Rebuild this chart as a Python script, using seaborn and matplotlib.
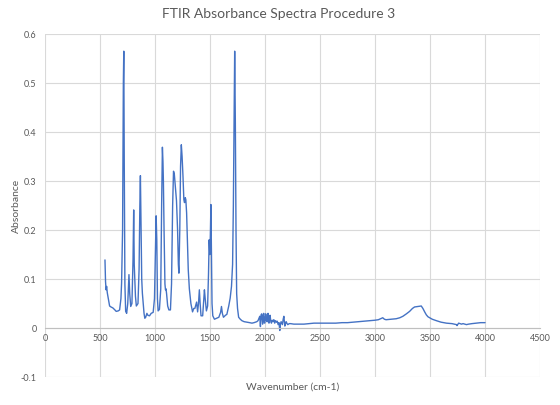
import numpy as np
import pandas as pd
import matplotlib
matplotlib.use('Agg')
import matplotlib.pyplot as plt
import seaborn as sns

# ── データ ──────────────────────────
wavenumber = [
    545, 550, 555, 560, 566, 575, 587, 600, 617, 635, 647, 665, 678, 690, 696,
    705, 712, 716, 720, 726, 733, 742, 752, 763, 770, 779, 790, 800, 806, 811,
    815, 822, 830, 845, 855, 862, 867, 873, 879, 885, 893, 900, 907, 915, 926,
    935, 950, 965, 983, 995, 1003, 1010, 1016, 1022, 1028, 1040, 1052, 1060,
    1067, 1072, 1076, 1082, 1090, 1095, 1100, 1105, 1115, 1126, 1140, 1150,
    1160, 1168, 1175, 1182, 1190, 1195, 1205, 1212, 1217, 1225, 1232, 1239,
    1246, 1254, 1262, 1268, 1275, 1280, 1287, 1295, 1302, 1312, 1326, 1341,
    1352, 1362, 1372, 1378, 1387, 1395, 1403, 1410, 1418, 1433, 1442, 1449,
    1456, 1467, 1478, 1486, 1492, 1498, 1503, 1508, 1513, 1518, 1525, 1540,
    1560, 1580, 1596, 1604, 1612, 1622, 1640, 1653, 1670, 1683, 1695, 1705,
    1712, 1718, 1724, 1730, 1736, 1742, 1750, 1760, 1775, 1790, 1810, 1836,
    1860, 1881, 1900, 1912, 1925, 1936, 1945, 1952, 1958, 1964, 1970, 1978,
    1983, 1988, 1993, 1997, 2002, 2006, 2012, 2018, 2023, 2027, 2032, 2036,
    2041, 2046, 2052, 2058, 2065, 2073, 2080, 2088, 2096, 2104, 2111, 2119,
    2127, 2134, 2140, 2146, 2152, 2158, 2165, 2171, 2176, 2180, 2186, 2192,
    2200, 2207, 2220, 2232, 2262, 2300, 2354, 2400, 2445, 2500, 2550, 2600,
    2643, 2700, 2750, 2795, 2850, 2900, 2948, 3000, 3030, 3050, 3070, 3085,
    3100, 3150, 3192, 3225, 3253, 3285, 3314, 3340, 3359, 3390, 3420, 3435,
    3451, 3466, 3481, 3520, 3558, 3600, 3649, 3700, 3740, 3745, 3760, 3786,
    3800, 3831, 3850, 3880, 3923, 3960, 4000,
]
absorbance = [
    0.139, 0.095, 0.078, 0.085, 0.072, 0.060, 0.045, 0.043, 0.041, 0.037, 0.034,
    0.035, 0.037, 0.060, 0.092, 0.200, 0.500, 0.565, 0.350, 0.090, 0.034, 0.030,
    0.050, 0.109, 0.070, 0.044, 0.050, 0.140, 0.241, 0.130, 0.105, 0.065, 0.045,
    0.050, 0.120, 0.250, 0.311, 0.200, 0.100, 0.071, 0.050, 0.030, 0.020, 0.022,
    0.030, 0.026, 0.025, 0.030, 0.032, 0.060, 0.150, 0.229, 0.180, 0.060, 0.035,
    0.038, 0.080, 0.250, 0.369, 0.340, 0.300, 0.200, 0.090, 0.078, 0.080, 0.070,
    0.045, 0.037, 0.037, 0.090, 0.250, 0.320, 0.315, 0.295, 0.275, 0.260, 0.200,
    0.130, 0.112, 0.200, 0.330, 0.374, 0.350, 0.310, 0.262, 0.256, 0.266, 0.262,
    0.235, 0.170, 0.119, 0.080, 0.050, 0.033, 0.040, 0.040, 0.048, 0.053, 0.033,
    0.050, 0.078, 0.050, 0.025, 0.025, 0.055, 0.078, 0.060, 0.035, 0.045, 0.110,
    0.180, 0.150, 0.190, 0.252, 0.150, 0.050, 0.025, 0.018, 0.020, 0.022, 0.032,
    0.044, 0.030, 0.022, 0.026, 0.028, 0.045, 0.061, 0.085, 0.130, 0.250, 0.420,
    0.565, 0.420, 0.200, 0.070, 0.040, 0.022, 0.018, 0.015, 0.013, 0.012, 0.011,
    0.010, 0.011, 0.012, 0.013, 0.015, 0.020, 0.024, 0.003, 0.027, 0.029, 0.008,
    0.025, 0.030, 0.012, 0.010, 0.022, 0.029, 0.015, 0.013, 0.027, 0.030, 0.012,
    0.010, 0.022, 0.026, 0.014, 0.010, 0.016, 0.013, 0.017, 0.010, 0.015, 0.012,
    0.014, 0.007, 0.011, -0.005, 0.008, 0.013, 0.010, 0.007, 0.018, 0.024, 0.012,
    0.004, 0.010, 0.013, 0.009, 0.007, 0.009, 0.009, 0.008, 0.008, 0.008, 0.009,
    0.010, 0.010, 0.010, 0.010, 0.010, 0.011, 0.011, 0.012, 0.013, 0.014, 0.015,
    0.016, 0.017, 0.019, 0.021, 0.018, 0.017, 0.018, 0.019, 0.021, 0.024, 0.029,
    0.034, 0.040, 0.043, 0.044, 0.045, 0.040, 0.033, 0.027, 0.023, 0.018, 0.015,
    0.012, 0.010, 0.009, 0.007, 0.005, 0.010, 0.008, 0.009, 0.007, 0.008, 0.009,
    0.010, 0.011, 0.011,
]
x_ticks = [0, 500, 1000, 1500, 2000, 2500, 3000, 3500, 4000, 4500]
y_ticks = [-0.1, 0, 0.1, 0.2, 0.3, 0.4, 0.5, 0.6]

df = pd.DataFrame({'Wavenumber': wavenumber, 'Absorbance': absorbance})

TEXT = '#595959'
GRID = '#d9d9d9'

sns.set_style('white')
plt.rcParams['font.family'] = ['Lato', 'DejaVu Sans']
plt.rcParams['axes.unicode_minus'] = False

fig = plt.figure(figsize=(5.6, 4.05), dpi=100)
ax = fig.add_axes([0.0804, 0.069, 0.884, 0.847])

sns.lineplot(data=df, x='Wavenumber', y='Absorbance', ax=ax,
             color='#4472c4', linewidth=1.0, sort=False, estimator=None)

ax.set_xlim(0, 4500)
ax.set_ylim(-0.1, 0.6)
ax.set_xticks(x_ticks)
ax.set_yticks(y_ticks)
ax.set_xticklabels([str(t) for t in x_ticks])
ax.set_yticklabels([f'{t:g}' for t in y_ticks])
ax.grid(True, color=GRID, linewidth=0.8)
ax.set_axisbelow(True)

# 横軸は y=0 の位置に（Excel 風）
for s in ['top', 'right', 'left']:
    ax.spines[s].set_visible(False)
ax.spines['bottom'].set_position(('data', 0))
ax.spines['bottom'].set_color('#bfbfbf')
ax.spines['bottom'].set_linewidth(0.8)

ax.tick_params(axis='both', length=0, labelsize=6.5, colors=TEXT)
ax.tick_params(axis='x', pad=4)
ax.tick_params(axis='y', pad=6)

ax.set_xlabel('Wavenumber (cm-1)', fontsize=7.5, color=TEXT)
ax.set_ylabel('Absorbance', fontsize=7.5, color=TEXT)
ax.xaxis.set_label_coords(0.5, -0.015)
ax.yaxis.set_label_coords(-0.048, 0.5)

fig.text(0.497, 0.965, 'FTIR Absorbance Spectra Procedure 3', ha='center', va='center',
         fontsize=10, color=TEXT)

fig.savefig('out.png', dpi=100)
